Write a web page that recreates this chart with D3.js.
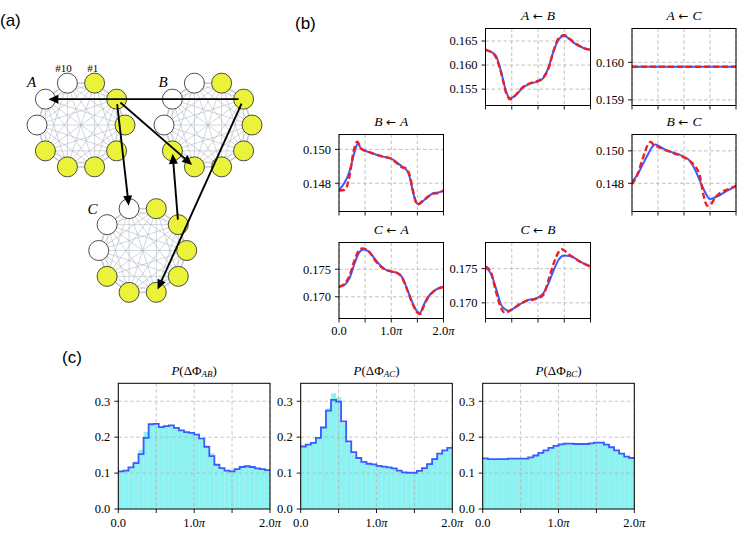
<!DOCTYPE html>
<html><head><meta charset="utf-8">
<script src="https://cdn.jsdelivr.net/npm/d3@7"></script>
<style>body{margin:0;background:#fff} svg{display:block}</style>
</head><body>
<script>
// ---------- DATA ----------
// Panel (a): node states (#1..#10), 1 = yellow (active), 0 = white
const nodeStateA = [1,1,1,1,1,1,1,0,0,0];
const nodeStateB = [1,1,1,1,1,1,1,0,0,0];
const nodeStateC = [1,1,1,1,1,1,1,0,0,0];
// couplings: [from group, from node, to group, to node]
const couplings = [["B",2,"A",9],["A",2,"B",6],["A",2,"C",10],["C",2,"B",7],["B",2,"C",5]];

// Panel (b): phase (in units of pi) and coupling values; blue = solid, red = dashed
const phaseTicks = [0, 0.5, 1, 1.5, 2];
const phaseLabels = ["0.0", "", "1.0", "", "2.0"];
const AB_blue = [[0,0.1631],[0.1,0.1628],[0.2,0.1619],[0.3,0.1585],[0.4,0.1543],[0.47,0.1531],[0.55,0.1535],[0.6,0.1540],[0.7,0.1552],[0.8,0.1559],[0.9,0.1563],[1.0,0.1566],[1.1,0.1573],[1.2,0.1595],[1.3,0.1630],[1.4,0.1654],[1.5,0.1661],[1.6,0.1654],[1.7,0.1645],[1.8,0.1639],[1.9,0.1634],[2.0,0.1632]];
const AB_red  = [[0,0.1632],[0.1,0.1627],[0.2,0.1616],[0.3,0.1583],[0.4,0.1540],[0.47,0.1529],[0.55,0.1535],[0.6,0.1541],[0.7,0.1553],[0.8,0.1560],[0.9,0.1564],[1.0,0.1567],[1.1,0.1574],[1.2,0.1593],[1.3,0.1631],[1.4,0.1657],[1.5,0.1662],[1.6,0.1655],[1.7,0.1646],[1.8,0.1639],[1.9,0.1634],[2.0,0.1632]];
const AC_blue = [[0,0.15988],[2.0,0.15988]];
const AC_red  = [[0,0.15988],[2.0,0.15988]];
const BA_blue = [[0,0.14761],[0.1,0.1480],[0.2,0.14869],[0.3,0.14985],[0.36,0.15035],[0.42,0.15005],[0.5,0.14992],[0.6,0.1498],[0.7,0.1497],[0.8,0.1496],[0.9,0.14953],[1.0,0.14945],[1.1,0.14925],[1.2,0.1490],[1.3,0.14875],[1.35,0.1484],[1.4,0.1477],[1.45,0.1471],[1.5,0.14678],[1.55,0.1468],[1.6,0.14692],[1.7,0.14718],[1.8,0.14741],[1.9,0.14745],[2.0,0.14755]];
const BA_red  = [[0,0.14757],[0.1,0.1476],[0.15,0.1478],[0.2,0.1484],[0.28,0.1499],[0.35,0.15045],[0.42,0.15005],[0.5,0.14992],[0.6,0.14982],[0.7,0.1497],[0.8,0.14962],[0.9,0.14955],[1.0,0.14945],[1.1,0.1492],[1.2,0.14895],[1.28,0.14888],[1.35,0.1485],[1.42,0.1475],[1.5,0.14673],[1.6,0.14695],[1.7,0.1472],[1.8,0.14738],[1.9,0.14742],[2.0,0.14757]];
const BC_blue = [[0,0.1481],[0.1,0.14851],[0.2,0.14912],[0.3,0.14975],[0.4,0.15029],[0.45,0.15039],[0.5,0.15033],[0.6,0.15014],[0.7,0.1500],[0.8,0.14988],[0.9,0.14978],[1.0,0.14963],[1.1,0.14943],[1.2,0.14892],[1.3,0.1482],[1.4,0.14749],[1.5,0.14702],[1.6,0.14714],[1.7,0.14729],[1.8,0.14749],[1.9,0.14765],[2.0,0.14784]];
const BC_red  = [[0,0.14795],[0.1,0.1485],[0.2,0.14945],[0.3,0.15035],[0.36,0.15055],[0.42,0.15035],[0.5,0.15025],[0.6,0.1501],[0.7,0.14998],[0.8,0.14985],[0.9,0.14975],[1.0,0.1496],[1.1,0.1494],[1.2,0.1491],[1.3,0.1485],[1.38,0.1472],[1.45,0.14662],[1.5,0.14665],[1.6,0.14712],[1.7,0.14742],[1.8,0.14758],[1.9,0.1477],[2.0,0.14784]];
const CA_blue = [[0,0.17183],[0.1,0.17213],[0.2,0.17335],[0.3,0.1761],[0.4,0.17823],[0.47,0.17856],[0.55,0.17835],[0.6,0.17793],[0.7,0.17671],[0.8,0.17561],[0.9,0.17488],[1.0,0.17457],[1.1,0.17439],[1.2,0.17366],[1.3,0.17152],[1.4,0.16909],[1.5,0.16726],[1.55,0.16707],[1.62,0.16848],[1.7,0.1699],[1.8,0.1709],[1.9,0.17152],[2.0,0.17183]];
const CA_red  = [[0,0.1718],[0.1,0.1723],[0.2,0.1738],[0.3,0.1767],[0.4,0.1786],[0.45,0.17875],[0.55,0.1784],[0.6,0.1779],[0.7,0.1765],[0.8,0.1755],[0.9,0.1749],[1.0,0.1746],[1.1,0.1744],[1.2,0.1736],[1.3,0.1714],[1.4,0.1689],[1.5,0.1671],[1.55,0.16685],[1.62,0.1683],[1.7,0.1698],[1.8,0.1709],[1.9,0.1715],[2.0,0.1718]];
const CB_blue = [[0,0.1752],[0.1,0.17431],[0.2,0.17211],[0.3,0.16966],[0.4,0.16892],[0.45,0.16882],[0.5,0.16902],[0.6,0.16951],[0.7,0.1700],[0.8,0.17039],[0.9,0.17054],[1.0,0.17078],[1.1,0.17137],[1.2,0.17284],[1.3,0.1748],[1.4,0.17637],[1.5,0.17691],[1.6,0.17686],[1.7,0.17652],[1.8,0.17603],[1.9,0.17564],[2.0,0.17529]];
const CB_red  = [[0,0.1753],[0.1,0.17455],[0.2,0.17162],[0.3,0.16917],[0.37,0.16853],[0.45,0.1688],[0.5,0.16902],[0.6,0.16955],[0.7,0.1700],[0.8,0.17035],[0.9,0.17045],[1.0,0.17068],[1.1,0.17115],[1.2,0.17333],[1.3,0.1758],[1.4,0.1775],[1.45,0.17784],[1.5,0.17764],[1.6,0.17701],[1.7,0.17652],[1.8,0.17603],[1.9,0.17564],[2.0,0.17529]];

// Panel (c): 30-bin histograms over [0, 2pi]
const histYTicks = [0, 0.1, 0.2, 0.3];
const histAB_line = [0.105,0.107,0.116,0.128,0.153,0.198,0.236,0.237,0.228,0.231,0.233,0.226,0.219,0.214,0.212,0.207,0.196,0.173,0.147,0.123,0.114,0.107,0.105,0.111,0.117,0.119,0.117,0.113,0.111,0.108];
const histAB_fill = [0.104,0.108,0.114,0.132,0.165,0.215,0.234,0.233,0.229,0.230,0.232,0.225,0.220,0.213,0.210,0.205,0.192,0.178,0.155,0.128,0.113,0.106,0.106,0.112,0.116,0.118,0.117,0.114,0.110,0.107];
const histAC_line = [0.174,0.179,0.184,0.198,0.227,0.274,0.304,0.299,0.244,0.188,0.158,0.142,0.131,0.126,0.124,0.120,0.118,0.116,0.113,0.107,0.102,0.101,0.101,0.106,0.114,0.125,0.139,0.154,0.163,0.170];
const histAC_fill = [0.172,0.178,0.185,0.200,0.230,0.280,0.322,0.311,0.240,0.182,0.152,0.138,0.130,0.126,0.123,0.121,0.118,0.116,0.112,0.106,0.101,0.100,0.102,0.107,0.116,0.128,0.142,0.156,0.164,0.168];
const histBC_line = [0.141,0.139,0.139,0.139,0.139,0.140,0.140,0.140,0.140,0.144,0.149,0.156,0.163,0.170,0.176,0.180,0.182,0.182,0.181,0.181,0.181,0.183,0.185,0.185,0.179,0.172,0.163,0.154,0.146,0.142];
const histBC_fill = [0.140,0.139,0.138,0.139,0.140,0.139,0.140,0.141,0.141,0.145,0.150,0.156,0.164,0.171,0.177,0.181,0.182,0.181,0.180,0.181,0.182,0.184,0.186,0.184,0.178,0.170,0.162,0.153,0.145,0.141];

// ---------- DRAWING ----------
const W = 747, H = 540;
const svg = d3.select("body").append("svg").attr("width", W).attr("height", H)
  .style("font-family", "'Liberation Serif', 'Times New Roman', serif");

const SERIF = "'Liberation Serif', 'DejaVu Serif', serif";
const GRID = "#b0b0b0";
const BLUE = "#3d5afe";
const RED = "#f01e1e";

// panel letters
[["(a)", 0, 26], ["(b)", 295, 29], ["(c)", 62, 363]].forEach(([t, x, y]) => {
  svg.append("text").attr("x", x).attr("y", y).text(t)
    .style("font-family", "'Liberation Sans', Arial, sans-serif").style("font-size", "17px");
});

// ---- Panel (a): network ----
const gA = svg.append("g");
const rings = {
  A: {cx: 81, cy: 125, state: nodeStateA, lx: 31.5, ly: 87},
  B: {cx: 208, cy: 125, state: nodeStateB, lx: 163, ly: 87},
  C: {cx: 142.7, cy: 250.5, state: nodeStateC, lx: 92.5, ly: 214}
};
const RR = 44, NR = 10;
function nodePos(g, k) {
  const r = rings[g];
  const ang = (72 - 36 * (k - 1)) * Math.PI / 180;
  return [r.cx + RR * Math.cos(ang), r.cy - RR * Math.sin(ang)];
}
Object.keys(rings).forEach(g => {
  const r = rings[g];
  const pts = r.state.map((s, i) => nodePos(g, i + 1));
  const edges = [];
  for (let i = 0; i < pts.length; i++) for (let j = i + 1; j < pts.length; j++) edges.push([pts[i], pts[j], j - i === 1 || (i === 0 && j === pts.length - 1)]);
  gA.append("g").selectAll("line").data(edges).join("line")
    .attr("x1", d => d[0][0]).attr("y1", d => d[0][1])
    .attr("x2", d => d[1][0]).attr("y2", d => d[1][1])
    .attr("stroke", "#9ea8b3").attr("stroke-width", d => d[2] ? 1.6 : 0.55).attr("stroke-opacity", d => d[2] ? 0.6 : 0.85);
  gA.append("g").selectAll("circle").data(r.state).join("circle")
    .attr("cx", (d, i) => pts[i][0]).attr("cy", (d, i) => pts[i][1]).attr("r", NR)
    .attr("fill", d => d ? "#ebf23a" : "#ffffff").attr("stroke", "#222").attr("stroke-width", 0.8);
  gA.append("text").attr("x", r.lx).attr("y", r.ly).attr("text-anchor", "middle").text(g)
    .style("font-family", SERIF).style("font-style", "italic").style("font-size", "15px");
});
gA.append("text").attr("x", 63.5).attr("y", 71.5).attr("text-anchor", "middle").text("#10").style("font-family", SERIF).style("font-size", "11px");
gA.append("text").attr("x", 92.7).attr("y", 71.5).attr("text-anchor", "middle").text("#1").style("font-family", SERIF).style("font-size", "11px");
couplings.forEach(([g1, n1, g2, n2]) => {
  const p1 = nodePos(g1, n1), p2 = nodePos(g2, n2);
  const dx = p2[0] - p1[0], dy = p2[1] - p1[1], L = Math.hypot(dx, dy);
  const ux = dx / L, uy = dy / L;
  const s = [p1[0] + 5 * ux, p1[1] + 5 * uy];
  const tip = [p2[0] - 3 * ux, p2[1] - 3 * uy];
  const hl = 10, hw = 4.5;
  const base = [tip[0] - hl * ux, tip[1] - hl * uy];
  gA.append("line").attr("x1", s[0]).attr("y1", s[1]).attr("x2", base[0] + 2 * ux).attr("y2", base[1] + 2 * uy)
    .attr("stroke", "#000").attr("stroke-width", 1.9);
  gA.append("path").attr("d", `M${tip[0]},${tip[1]}L${base[0] - hw * uy},${base[1] + hw * ux}L${base[0] + hw * uy},${base[1] - hw * ux}Z`)
    .attr("fill", "#000");
});

// ---- generic axes helper ----
function frame(g, x0, x1, y0, y1) {
  g.append("rect").attr("x", x0).attr("y", y0).attr("width", x1 - x0).attr("height", y1 - y0)
    .attr("fill", "none").attr("stroke", "#000").attr("stroke-width", 1);
}
function gridLines(g, xs, ys, x, y, x0, x1, y0, y1) {
  const gg = g.append("g").attr("stroke", GRID).attr("stroke-width", 0.8).attr("stroke-dasharray", "3.5,2.5");
  xs.forEach(v => gg.append("line").attr("x1", x(v)).attr("x2", x(v)).attr("y1", y0).attr("y2", y1));
  ys.forEach(v => gg.append("line").attr("x1", x0).attr("x2", x1).attr("y1", y(v)).attr("y2", y(v)));
  return gg;
}
function tickMarks(g, xs, ys, x, y, x0, y1) {
  xs.forEach(v => g.append("line").attr("x1", x(v)).attr("x2", x(v)).attr("y1", y1).attr("y2", y1 + 4).attr("stroke", "#000").attr("stroke-width", 0.9));
  ys.forEach(v => g.append("line").attr("x1", x0 - 4).attr("x2", x0).attr("y1", y(v)).attr("y2", y(v)).attr("stroke", "#000").attr("stroke-width", 0.9));
}
function piLabel(g, xpos, ypos, lab) {
  const t = g.append("text").attr("x", xpos).attr("y", ypos).attr("text-anchor", "middle")
    .style("font-family", SERIF).style("font-size", "12.5px");
  t.append("tspan").text(lab);
  if (lab !== "0.0") t.append("tspan").style("font-style", "italic").text("π");
}

// ---- Panel (b) ----
const cols = [[339, 443.5], [485.5, 590.5], [632, 736]];
const rowsB = [[28.5, 105.5], [134.5, 211.5], [242.5, 318.5]];
const panelsB = [
  {t: ["A", "B"], r: 0, c: 1, dom: [0.1516, 0.1676], ticks: [0.155, 0.160, 0.165], blue: AB_blue, red: AB_red, xl: false},
  {t: ["A", "C"], r: 0, c: 2, dom: [0.15885, 0.16090], ticks: [0.159, 0.160], blue: AC_blue, red: AC_red, xl: false},
  {t: ["B", "A"], r: 1, c: 0, dom: [0.14633, 0.15088], ticks: [0.148, 0.150], blue: BA_blue, red: BA_red, xl: false},
  {t: ["B", "C"], r: 1, c: 2, dom: [0.14626, 0.15101], ticks: [0.148, 0.150], blue: BC_blue, red: BC_red, xl: false},
  {t: ["C", "A"], r: 2, c: 0, dom: [0.16606, 0.17985], ticks: [0.170, 0.175], blue: CA_blue, red: CA_red, xl: true},
  {t: ["C", "B"], r: 2, c: 1, dom: [0.16771, 0.17882], ticks: [0.170, 0.175], blue: CB_blue, red: CB_red, xl: false}
];
panelsB.forEach(p => {
  const [x0, x1] = cols[p.c], [y0, y1] = rowsB[p.r];
  const g = svg.append("g");
  const x = d3.scaleLinear().domain([0, 2]).range([x0, x1]);
  const y = d3.scaleLinear().domain(p.dom).range([y1, y0]);
  gridLines(g, phaseTicks, p.ticks, x, y, x0, x1, y0, y1);
  const line = d3.line().x(d => x(d[0])).y(d => y(d[1])).curve(d3.curveMonotoneX);
  const clip = "clipb" + p.r + p.c;
  g.append("clipPath").attr("id", clip).append("rect").attr("x", x0).attr("y", y0 - 2).attr("width", x1 - x0).attr("height", y1 - y0 + 4);
  g.append("path").attr("d", line(p.blue)).attr("fill", "none").attr("stroke", BLUE).attr("stroke-width", 2).attr("clip-path", `url(#${clip})`);
  g.append("path").attr("d", line(p.red)).attr("fill", "none").attr("stroke", RED).attr("stroke-width", 2.4)
    .attr("stroke-dasharray", "6,3").attr("clip-path", `url(#${clip})`);
  frame(g, x0, x1, y0, y1);
  tickMarks(g, phaseTicks, p.ticks, x, y, x0, y1);
  p.ticks.forEach(v => g.append("text").attr("x", x0 - 8).attr("y", y(v) + 4.3).attr("text-anchor", "end")
    .style("font-family", SERIF).style("font-size", "12.5px").text(d3.format(".3f")(v)));
  if (p.xl) phaseTicks.forEach((v, i) => { if (phaseLabels[i]) piLabel(g, x(v), y1 + 16.5, phaseLabels[i]); });
  const tt = g.append("text").attr("x", (x0 + x1) / 2).attr("y", y0 - 9).attr("text-anchor", "middle")
    .style("font-family", SERIF).style("font-size", "13.5px");
  tt.append("tspan").style("font-style", "italic").text(p.t[0]);
  tt.append("tspan").text(" ← ").style("font-family", "'DejaVu Sans', sans-serif").style("font-size", "12px");
  tt.append("tspan").style("font-style", "italic").text(p.t[1]);
});

// ---- Panel (c) ----
const colsC = [[118.3, 270], [300.7, 452.3], [482.7, 634.3]];
const rowC = [383.3, 509];
const panelsC = [
  {sub: "AB", line: histAB_line, fill: histAB_fill},
  {sub: "AC", line: histAC_line, fill: histAC_fill},
  {sub: "BC", line: histBC_line, fill: histBC_fill}
];
panelsC.forEach((p, ci) => {
  const [x0, x1] = colsC[ci], [y0, y1] = rowC;
  const g = svg.append("g");
  const x = d3.scaleLinear().domain([0, 2]).range([x0, x1]);
  const y = d3.scaleLinear().domain([0, 0.35]).range([y1, y0]);
  const nb = p.fill.length, bw = 2 / nb;
  g.append("g").selectAll("rect").data(p.fill).join("rect")
    .attr("x", (d, i) => x(i * bw)).attr("width", (d, i) => x((i + 1) * bw) - x(i * bw))
    .attr("y", d => y(d)).attr("height", d => y(0) - y(d))
    .attr("fill", "#00e0e0").attr("fill-opacity", 0.45)
    .attr("stroke", "#ffffff").attr("stroke-width", 0.3).attr("stroke-opacity", 0.25);
  gridLines(g, phaseTicks, histYTicks.slice(1), x, y, x0, x1, y0, y1).attr("stroke", "#b8a8a8").attr("stroke-opacity", 0.85);
  const steps = p.line.map((v, i) => [i * bw, v]).concat([[2, p.line[nb - 1]]]);
  const sl = d3.line().x(d => x(d[0])).y(d => y(d[1])).curve(d3.curveStepAfter);
  g.append("path").attr("d", sl(steps)).attr("fill", "none").attr("stroke", BLUE).attr("stroke-width", 1.8);
  frame(g, x0, x1, y0, y1);
  tickMarks(g, phaseTicks, histYTicks, x, y, x0, y1);
  histYTicks.forEach(v => g.append("text").attr("x", x0 - 8).attr("y", y(v) + 4.3).attr("text-anchor", "end")
    .style("font-family", SERIF).style("font-size", "12.5px").text(d3.format(".1f")(v)));
  phaseTicks.forEach((v, i) => { if (phaseLabels[i]) piLabel(g, x(v), y1 + 18, phaseLabels[i]); });
  const tt = g.append("text").attr("x", (x0 + x1) / 2).attr("y", y0 - 8).attr("text-anchor", "middle")
    .style("font-family", SERIF).style("font-size", "13px");
  tt.append("tspan").style("font-style", "italic").text("P");
  tt.append("tspan").text("(ΔΦ");
  tt.append("tspan").style("font-style", "italic").style("font-size", "9px").attr("dy", 2).text(p.sub);
  tt.append("tspan").attr("dy", -2).text(")");
});
</script>
</body></html>
